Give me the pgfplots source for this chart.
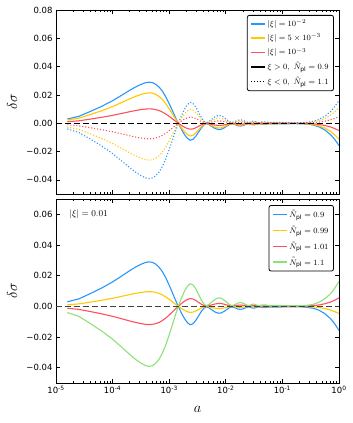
\documentclass[border=0pt]{standalone}
\usepackage{fontspec}
\setmainfont{DejaVu Sans}
\usepackage{pgfplots}
\usepackage{pgfplotstable}
\pgfplotsset{compat=1.18}

\definecolor{cblue}{RGB}{40,150,255}
\definecolor{cyellow}{RGB}{255,200,0}
\definecolor{cred}{RGB}{255,80,95}
\definecolor{cgreen}{RGB}{140,225,120}

% a, then delta sigma for each curve
% B: |xi|=1e-2, N=0.9 ; Yt, Rt: |xi|=5e-3, 1e-3 ; G: xi<0, N=1.1 ; Yd, Rd: dotted ; Yb, Rb: N=0.99, 1.01
\pgfplotstableread{
a B Yt Rt G Yd Rd Yb Rb
1.585e-5 0.00300 0.00222 0.00105 -0.00405 -0.00270 -0.00114 0.00099 -0.00123
2.512e-5 0.00480 0.00355 0.00168 -0.00648 -0.00432 -0.00182 0.00158 -0.00197
3.981e-5 0.00820 0.00607 0.00287 -0.01107 -0.00738 -0.00312 0.00271 -0.00336
6.310e-5 0.01180 0.00873 0.00413 -0.01593 -0.01062 -0.00448 0.00389 -0.00484
1e-4 0.01590 0.01177 0.00557 -0.02147 -0.01431 -0.00604 0.00525 -0.00652
1.413e-4 0.01950 0.01443 0.00683 -0.02633 -0.01755 -0.00741 0.00644 -0.00800
1.995e-4 0.02320 0.01717 0.00812 -0.03132 -0.02088 -0.00882 0.00766 -0.00951
2.512e-4 0.02550 0.01887 0.00893 -0.03443 -0.02295 -0.00969 0.00842 -0.01046
3.162e-4 0.02740 0.02028 0.00959 -0.03699 -0.02466 -0.01041 0.00904 -0.01123
3.802e-4 0.02860 0.02116 0.01001 -0.03861 -0.02574 -0.01087 0.00944 -0.01173
4.365e-4 0.02900 0.02146 0.01015 -0.03915 -0.02610 -0.01102 0.00957 -0.01189
5.012e-4 0.02870 0.02124 0.01005 -0.03875 -0.02583 -0.01091 0.00947 -0.01177
5.754e-4 0.02760 0.02042 0.00966 -0.03726 -0.02484 -0.01049 0.00911 -0.01132
6.607e-4 0.02560 0.01894 0.00896 -0.03456 -0.02304 -0.00973 0.00845 -0.01050
7.586e-4 0.02260 0.01672 0.00791 -0.03051 -0.02034 -0.00859 0.00746 -0.00927
8.710e-4 0.01860 0.01376 0.00651 -0.02511 -0.01674 -0.00707 0.00614 -0.00763
1e-3 0.01380 0.01021 0.00483 -0.01863 -0.01242 -0.00524 0.00455 -0.00566
1.148e-3 0.00860 0.00636 0.00301 -0.01161 -0.00774 -0.00327 0.00284 -0.00353
1.288e-3 0.00420 0.00311 0.00147 -0.00567 -0.00378 -0.00160 0.00139 -0.00172
1.445e-3 0 0 0 0 0 0 0 0
1.660e-3 -0.00460 -0.00345 -0.00161 0.00566 0.00377 0.00166 -0.00152 0.00193
1.862e-3 -0.00800 -0.00600 -0.00280 0.00984 0.00656 0.00288 -0.00264 0.00336
2.089e-3 -0.01060 -0.00795 -0.00371 0.01304 0.00869 0.00382 -0.00350 0.00445
2.344e-3 -0.01200 -0.00900 -0.00420 0.01476 0.00984 0.00432 -0.00396 0.00504
2.630e-3 -0.01140 -0.00855 -0.00399 0.01402 0.00935 0.00410 -0.00376 0.00479
2.951e-3 -0.00920 -0.00690 -0.00322 0.01132 0.00754 0.00331 -0.00304 0.00386
3.311e-3 -0.00620 -0.00465 -0.00217 0.00763 0.00508 0.00223 -0.00205 0.00260
3.715e-3 -0.00320 -0.00240 -0.00112 0.00394 0.00262 0.00115 -0.00106 0.00134
4.169e-3 -0.00100 -0.00075 -0.00035 0.00123 0.00082 0.00036 -0.00033 0.00042
4.571e-3 -0.00040 -0.00030 -0.00014 0.00049 0.00033 0.00014 -0.00013 0.00017
5.012e-3 -0.00090 -0.00068 -0.00032 0.00111 0.00074 0.00032 -0.00030 0.00038
5.623e-3 -0.00220 -0.00165 -0.00077 0.00271 0.00180 0.00079 -0.00073 0.00092
6.457e-3 -0.00370 -0.00278 -0.00130 0.00455 0.00303 0.00133 -0.00122 0.00155
7.413e-3 -0.00450 -0.00338 -0.00158 0.00554 0.00369 0.00162 -0.00149 0.00189
8.318e-3 -0.00430 -0.00323 -0.00151 0.00529 0.00353 0.00155 -0.00142 0.00181
9.333e-3 -0.00330 -0.00248 -0.00116 0.00406 0.00271 0.00119 -0.00109 0.00139
1.047e-2 -0.00200 -0.00150 -0.00070 0.00246 0.00164 0.00072 -0.00066 0.00084
1.175e-2 -0.00080 -0.00060 -0.00028 0.00098 0.00066 0.00029 -0.00026 0.00034
1.288e-2 -0.00040 -0.00030 -0.00014 0.00049 0.00033 0.00014 -0.00013 0.00017
1.445e-2 -0.00090 -0.00068 -0.00032 0.00111 0.00074 0.00032 -0.00030 0.00038
1.622e-2 -0.00170 -0.00128 -0.00060 0.00209 0.00139 0.00061 -0.00056 0.00071
1.820e-2 -0.00200 -0.00150 -0.00070 0.00246 0.00164 0.00072 -0.00066 0.00084
2.042e-2 -0.00160 -0.00120 -0.00056 0.00197 0.00131 0.00058 -0.00053 0.00067
2.291e-2 -0.00080 -0.00060 -0.00028 0.00098 0.00066 0.00029 -0.00026 0.00034
2.512e-2 -0.00040 -0.00030 -0.00014 0.00049 0.00033 0.00014 -0.00013 0.00017
2.754e-2 -0.00070 -0.00053 -0.00025 0.00086 0.00057 0.00025 -0.00023 0.00029
3.020e-2 -0.00120 -0.00090 -0.00042 0.00148 0.00098 0.00043 -0.00040 0.00050
3.311e-2 -0.00100 -0.00075 -0.00035 0.00123 0.00082 0.00036 -0.00033 0.00042
3.631e-2 -0.00050 -0.00038 -0.00018 0.00062 0.00041 0.00018 -0.00017 0.00021
3.981e-2 -0.00040 -0.00030 -0.00014 0.00049 0.00033 0.00014 -0.00013 0.00017
4.467e-2 -0.00080 -0.00060 -0.00028 0.00098 0.00066 0.00029 -0.00026 0.00034
5.012e-2 -0.00080 -0.00060 -0.00028 0.00098 0.00066 0.00029 -0.00026 0.00034
5.623e-2 -0.00040 -0.00030 -0.00014 0.00049 0.00033 0.00014 -0.00013 0.00017
7.079e-2 -0.00050 -0.00038 -0.00018 0.00062 0.00041 0.00018 -0.00017 0.00021
0.1 -0.00040 -0.00030 -0.00014 0.00049 0.00033 0.00014 -0.00013 0.00017
0.1585 -0.00030 -0.00023 -0.00011 0.00037 0.00025 0.00011 -0.00010 0.00013
0.2239 -0.00040 -0.00029 -0.00013 0.00041 0.00028 0.00012 -0.00012 0.00014
0.2818 -0.00070 -0.00050 -0.00023 0.00072 0.00049 0.00021 -0.00021 0.00025
0.3548 -0.00130 -0.00094 -0.00043 0.00134 0.00091 0.00039 -0.00039 0.00046
0.4467 -0.00260 -0.00187 -0.00086 0.00268 0.00182 0.00078 -0.00078 0.00091
0.5623 -0.00480 -0.00346 -0.00158 0.00494 0.00336 0.00144 -0.00144 0.00168
0.7079 -0.00800 -0.00576 -0.00264 0.00824 0.00560 0.00240 -0.00240 0.00280
0.8318 -0.01120 -0.00806 -0.00370 0.01154 0.00784 0.00336 -0.00336 0.00392
1 -0.01570 -0.01130 -0.00518 0.01617 0.01099 0.00471 -0.00471 0.00550
}\sigdata

\pgfplotsset{
  panel/.style={
    scale only axis, width=283pt, height=184pt,
    xmin=1e-5, xmax=1,
    ymin=-0.05,
    xtick={1e-5,1e-4,1e-3,1e-2,1e-1,1},
    minor xtick={2e-5,3e-5,4e-5,5e-5,6e-5,7e-5,8e-5,9e-5,
      2e-4,3e-4,4e-4,5e-4,6e-4,7e-4,8e-4,9e-4,
      2e-3,3e-3,4e-3,5e-3,6e-3,7e-3,8e-3,9e-3,
      2e-2,3e-2,4e-2,5e-2,6e-2,7e-2,8e-2,9e-2,
      0.2,0.3,0.4,0.5,0.6,0.7,0.8,0.9},
    axis line style={line width=0.9pt},
    tick align=inside,
    major tick length=4pt, minor tick length=2pt,
    every tick/.append style={black, line width=0.6pt},
    tick label style={font=\fontsize{8.5}{10}\selectfont},
    scaled y ticks=false,
    ylabel={$\delta\sigma$},
    ylabel style={font=\fontsize{14}{16}\selectfont, at={(axis description cs:-0.155,0.5)}, anchor=center},
    legend cell align=left,
    legend image code/.code={\draw[mark repeat=2,mark phase=2,#1] plot coordinates {(0pt,0pt) (7pt,0pt) (14pt,0pt)};},
    legend image post style={line width=1.3pt},
    legend style={draw=black, line width=0.8pt, rounded corners=2pt,
      font=\fontsize{8}{9}\selectfont, anchor=north east, row sep=5pt,
      inner ysep=4pt, nodes={inner ysep=0.5pt}},
  },
  curve/.style={line width=1.1pt, no markers},
  dotline/.style={dash pattern=on 1.1pt off 1.9pt},
  zeroline/.style={black, line width=1.1pt, dash pattern=on 6pt off 3pt, forget plot},
}

\begin{document}
\begin{tikzpicture}
\useasboundingbox (-56pt,-40pt) rectangle (297pt,383pt);

% lower panel: |xi| = 0.01, several N_pl
\begin{semilogxaxis}[panel, at={(0pt,0pt)}, anchor=south west,
    ymax=0.07,
    ytick={-0.04,-0.02,0,0.02,0.04,0.06},
    yticklabels={−0.04,−0.02,0.00,0.02,0.04,0.06},
    xticklabels={10\textsuperscript{-5},10\textsuperscript{-4},10\textsuperscript{-3},10\textsuperscript{-2},10\textsuperscript{-1},10\textsuperscript{0}},
    xlabel={$a$},
    xlabel style={font=\fontsize{14}{16}\selectfont, at={(axis description cs:0.5,-0.145)}, anchor=center},
    legend style={at={(axis description cs:0.982,0.967)}, row sep=6pt},
  ]
  \addplot[curve, cblue] table[x=a, y=B] {\sigdata};
  \addlegendentry{$\tilde N_{\rm pl} = 0.9$}
  \addplot[curve, cyellow] table[x=a, y=Yb] {\sigdata};
  \addlegendentry{$\tilde N_{\rm pl} = 0.99$}
  \addplot[curve, cred] table[x=a, y=Rb] {\sigdata};
  \addlegendentry{$\tilde N_{\rm pl} = 1.01$}
  \addplot[curve, cgreen] table[x=a, y=G] {\sigdata};
  \addlegendentry{$\tilde N_{\rm pl} = 1.1$}
  \addplot[zeroline, black!75] coordinates {(1e-5,0) (1,0)};
  \node[anchor=west, font=\fontsize{9}{10}\selectfont] at (axis description cs:0.035,0.918) {$|\xi| = 0.01$};
\end{semilogxaxis}

% upper panel: several |xi|, both signs
\begin{semilogxaxis}[panel, at={(0pt,189pt)}, anchor=south west,
    ymax=0.08,
    ytick={-0.04,-0.02,0,0.02,0.04,0.06,0.08},
    yticklabels={−0.04,−0.02,0.00,0.02,0.04,0.06,0.08},
    xticklabel=\empty,
    legend style={at={(axis description cs:0.982,0.973)}},
  ]
  \addplot[curve, cblue] table[x=a, y=B] {\sigdata};
  \addlegendentry{$|\xi| = 10^{-2}$}
  \addplot[curve, cyellow] table[x=a, y=Yt] {\sigdata};
  \addlegendentry{$|\xi| = 5\times10^{-3}$}
  \addplot[curve, cred] table[x=a, y=Rt] {\sigdata};
  \addlegendentry{$|\xi| = 10^{-3}$}
  \addlegendimage{black, line width=1.1pt}
  \addlegendentry{$\xi>0,\ \tilde N_{\rm pl} = 0.9$}
  \addlegendimage{black, line width=1.1pt, dotline}
  \addlegendentry{$\xi<0,\ \tilde N_{\rm pl} = 1.1$}
  \addplot[curve, cblue, dotline, forget plot] table[x=a, y=G] {\sigdata};
  \addplot[curve, cyellow, dotline, forget plot] table[x=a, y=Yd] {\sigdata};
  \addplot[curve, cred, dotline, forget plot] table[x=a, y=Rd] {\sigdata};
  \addplot[zeroline] coordinates {(1e-5,0) (1,0)};
\end{semilogxaxis}
\end{tikzpicture}
\end{document}
